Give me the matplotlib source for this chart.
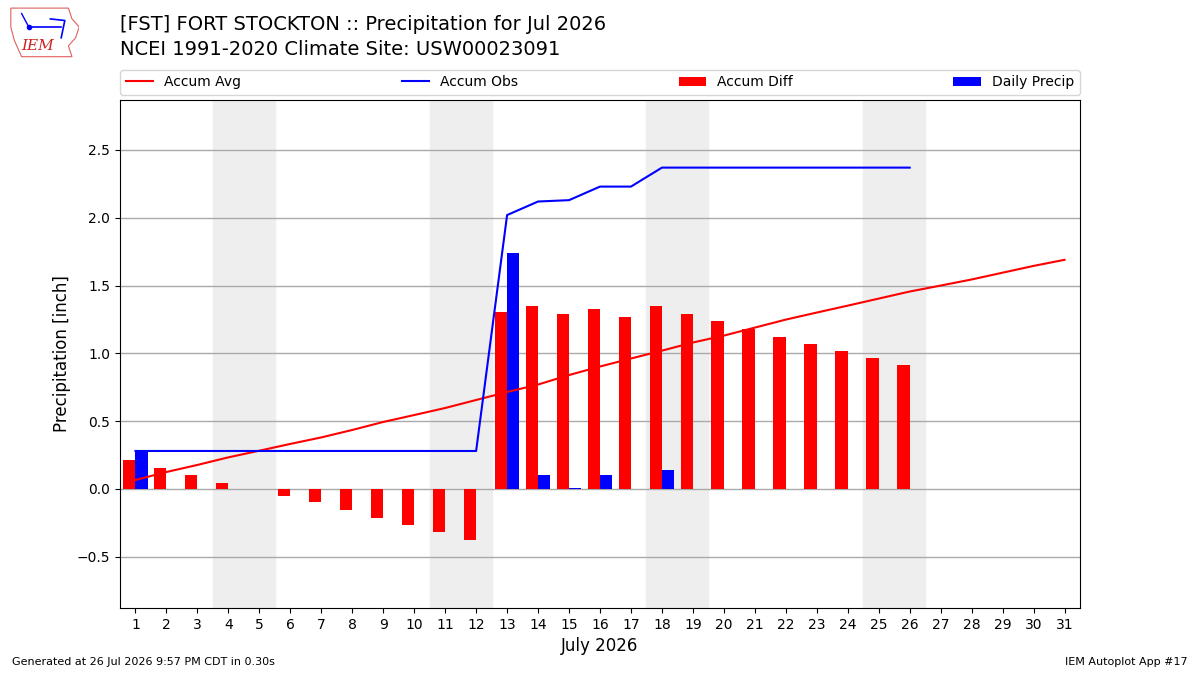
"""
Daily and accumulated precipitation for one month vs climatology (IEM autoplot 17 style).
"""

import numpy as np
import matplotlib.pyplot as plt
from matplotlib.patches import Polygon

# ------------------------------------------------------------------------
# Data
# ------------------------------------------------------------------------
days = list(range(1, 32))
accum_avg = [0.066, 0.125, 0.177, 0.233, 0.282, 0.332, 0.380, 0.435, 0.494, 0.545,
             0.597, 0.656, 0.715, 0.770, 0.840, 0.903, 0.962, 1.020, 1.080, 1.131,
             1.190, 1.249, 1.301, 1.352, 1.404, 1.456, 1.500, 1.545, 1.595, 1.645,
             1.690]
obs_days = list(range(1, 27))
daily_precip = [0.28, 0, 0, 0, 0, 0, 0, 0, 0, 0, 0, 0, 1.74, 0.10, 0.01, 0.10,
                0, 0.14, 0, 0, 0, 0, 0, 0, 0, 0]
weekends = [(4, 5), (11, 12), (18, 19), (25, 26)]

title = "[FST] FORT STOCKTON :: Precipitation for Jul 2026\nNCEI 1991-2020 Climate Site: USW00023091"
footer_left = "Generated at 26 Jul 2026 9:57 PM CDT in 0.30s"
footer_right = "IEM Autoplot App #17"

# ------------------------------------------------------------------------
# Derived series
# ------------------------------------------------------------------------
accum_obs = np.cumsum(daily_precip)
accum_diff = accum_obs - np.array(accum_avg[:len(obs_days)])

fig = plt.figure(figsize=(12, 6.75), dpi=100)
ax = fig.add_axes([0.1, 0.0993, 0.8, 0.7526])

for start, end in weekends:
    ax.axvspan(start - 0.5, end + 0.5, color="#eeeeee", zorder=0)

ax.plot(days, accum_avg, color="r", lw=1.5, label="Accum Avg", zorder=4)
ax.plot(obs_days, accum_obs, color="b", lw=1.5, label="Accum Obs", zorder=4)
ax.bar(np.array(obs_days) - 0.4, accum_diff, width=0.4, align="edge",
       color="r", label="Accum Diff", zorder=3)
ax.bar(obs_days, daily_precip, width=0.4, align="edge",
       color="b", label="Daily Precip", zorder=3)

ax.set_xlim(0.5, 31.5)
ax.set_ylim(-0.878, 2.869)
ax.set_xticks(days)
ax.set_yticks(np.arange(-0.5, 2.51, 0.5))
ax.grid(axis="y", color="#aaaaaa", lw=1, zorder=1)
ax.set_axisbelow(True)
ax.set_xlabel("July 2026", fontsize=12)
ax.set_ylabel("Precipitation [inch]", fontsize=12)

ax.legend(loc="lower left", bbox_to_anchor=(0, 1.01, 1, 0.05), mode="expand",
          ncol=4, fontsize=10, borderaxespad=0)

fig.text(0.1, 0.913, title, fontsize=14, va="bottom", ha="left", linespacing=1.4)
fig.text(0.01, 0.015, footer_left, fontsize=8)
fig.text(0.99, 0.015, footer_right, fontsize=8, ha="right")

# rough stand-in for the IEM logo
logo = fig.add_axes([0.006, 0.912, 0.06, 0.08])
logo.set_xlim(0, 1)
logo.set_ylim(0, 1)
logo.axis("off")
logo.add_patch(Polygon([(0.05, 0.95), (0.85, 0.95), (0.9, 0.75), (1.0, 0.6), (0.95, 0.4),
                        (0.85, 0.25), (0.9, 0.05), (0.2, 0.05), (0.1, 0.35), (0.05, 0.6)],
                       closed=True, fill=False, edgecolor="#e06060", lw=0.8))
logo.plot([0.3, 0.75], [0.6, 0.6], color="b", lw=1.2)
logo.plot([0.3], [0.6], "bo", ms=3)
logo.plot([0.2, 0.3], [0.85, 0.6], color="b", lw=1)
logo.plot([0.6, 0.8, 0.75], [0.75, 0.72, 0.4], color="b", lw=1.2)
logo.text(0.42, 0.25, "IEM", color="#cc2222", fontsize=11, family="serif",
          style="italic", ha="center", va="center")

plt.savefig("out.png")
